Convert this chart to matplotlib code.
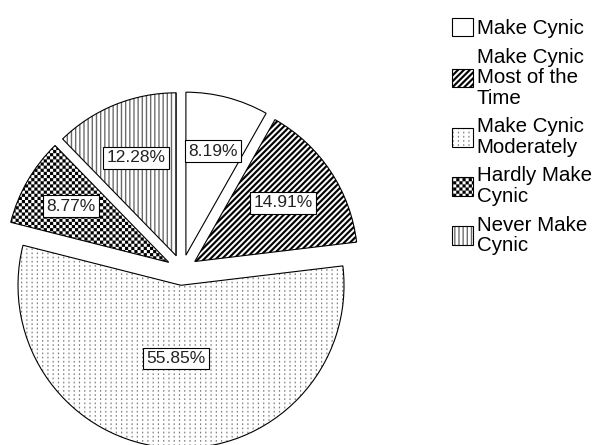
import warnings
import numpy as np
import matplotlib
matplotlib.use("Agg")
import matplotlib.pyplot as plt
from matplotlib import hatch as mhatch
from matplotlib.path import Path
from matplotlib.colors import to_rgba

warnings.filterwarnings("ignore")
plt.rcParams["font.family"] = ["Liberation Sans", "DejaVu Sans"]
plt.rcParams["hatch.linewidth"] = 0.05   # fills below are solid shapes, no stroke wanted

# data
categories = ["Make Cynic", "Make Cynic\nMost of the\nTime", "Make Cynic\nModerately",
              "Hardly Make\nCynic", "Never Make\nCynic"]
shares = [8.19, 14.91, 55.85, 8.77, 12.28]
pct_labels = ["8.19%", "14.91%", "55.85%", "8.77%", "12.28%"]

# fill patterns (SPSS-like), custom codes handled by FilledHatch below
hatches = ["", "s", "d", "c", "v"]
hatch_colors = ["black", "black", "#7a7a7a", "black", "#6a6a6a"]
label_dist = [0.66, 0.65, 0.45, 0.69, 0.65]


# hatch cell is 1 inch = 100 px here; sizes below are fractions of it
def rect(x, y, w, h):
    return [(x, y), (x + w, y), (x + w, y + h), (x, y + h), (x, y)]


def checker(n=16):
    s = 1.0 / (2 * n)
    out = []
    for i in range(n):
        for j in range(n):
            out.append(rect(2 * i * s, 2 * j * s, s, s))
            out.append(rect(2 * i * s + s, 2 * j * s + s, s, s))
    return out


def stripes(n=17, frac=0.5):
    w = frac / n
    out = []
    for k in range(-n, n + 1):
        c = k / n
        out.append([(0, c), (1, 1 + c), (1, 1 + c + w), (0, c + w), (0, c)])
    return out


def vbars(n=24, w=0.013):
    return [rect(i / n, 0, w, 1) for i in range(n)]


def dots(nx=19, ny=24, w=0.011, h=0.016):
    return [rect(i / nx, j / ny, w, h) for i in range(nx) for j in range(ny)]


FILLS = {"c": checker, "s": stripes, "v": vbars, "d": dots}


class FilledHatch(mhatch.HatchPatternBase):
    def __init__(self, hatch, density):
        self.polys = FILLS[hatch]() if hatch in FILLS else []
        self.num_vertices = 5 * len(self.polys)

    def set_vertices_and_codes(self, vertices, codes):
        cc = [Path.MOVETO, Path.LINETO, Path.LINETO, Path.LINETO, Path.CLOSEPOLY]
        for k, p in enumerate(self.polys):
            vertices[5 * k:5 * k + 5] = p
            codes[5 * k:5 * k + 5] = cc


mhatch._hatch_types.append(FilledHatch)

fig = plt.figure(figsize=(5.95, 4.45), dpi=100)
ax = fig.add_axes([0, 0, 1, 1])

wedges, _ = ax.pie(shares, explode=[0.094] * len(shares), startangle=90,
                   counterclock=False, colors=["white"] * len(shares),
                   wedgeprops=dict(edgecolor="black", linewidth=0.8))

for w, h, hc in zip(wedges, hatches, hatch_colors):
    w.set_hatch(h)
    w._hatch_color = to_rgba(hc)

for w, lbl, d in zip(wedges, pct_labels, label_dist):
    a = np.deg2rad((w.theta1 + w.theta2) / 2)
    cx, cy = w.center
    ax.text(cx + d * w.r * np.cos(a), cy + d * w.r * np.sin(a), lbl,
            ha="center", va="center", fontsize=12.5, color="#222222",
            bbox=dict(boxstyle="square,pad=0.2", fc="white", ec="black", lw=0.8))

# pie centre sits at about (182, 270) px, radius ~163 px
ax.set_xlim(-182 / 163, (595 - 182) / 163)
ax.set_ylim((270 - 445) / 163, 270 / 163)
ax.set_aspect("auto")
ax.axis("off")

leg = ax.legend(wedges, categories, loc="upper left",
                bbox_to_anchor=(452 / 595, 1 - 18 / 445), frameon=False,
                fontsize=14.8, handlelength=1.0, handleheight=1.0,
                handletextpad=0.2, labelspacing=0.48, borderpad=0, borderaxespad=0)
for t in leg.get_texts():
    t.set_linespacing(1.08)

fig.savefig("out.png", dpi=100)
